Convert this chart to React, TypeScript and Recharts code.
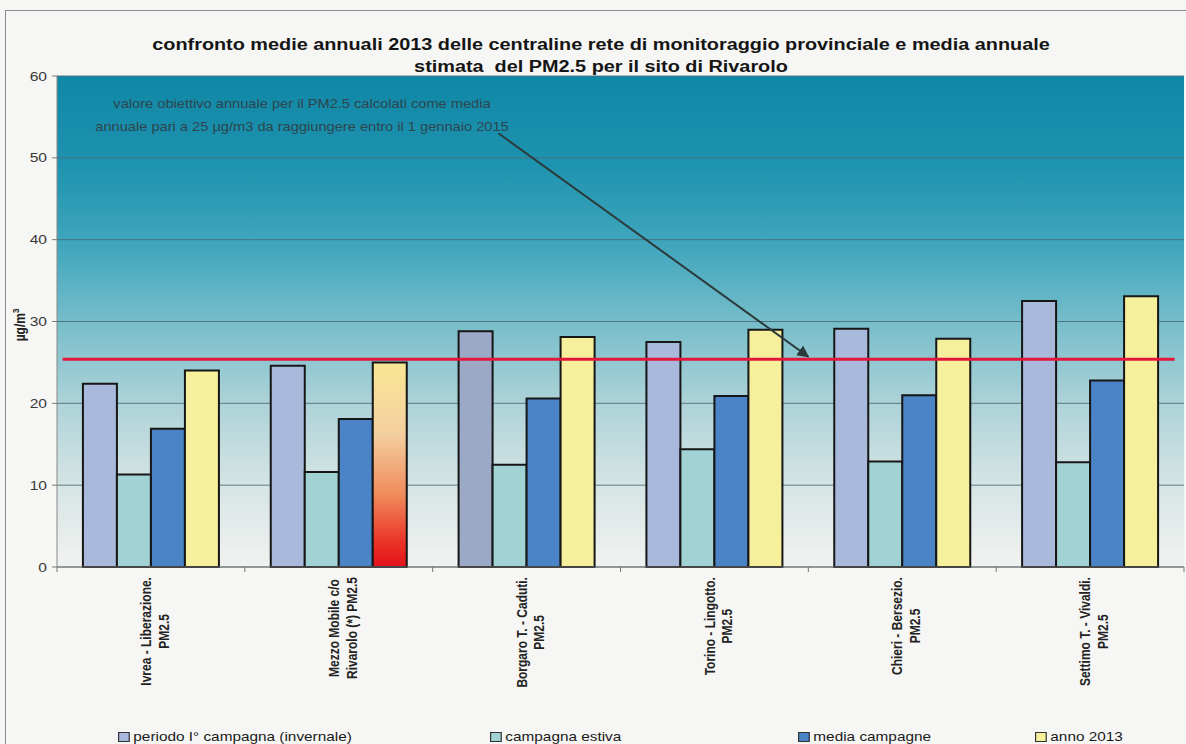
import React from 'react';
import { BarChart, Bar, XAxis, YAxis, CartesianGrid, ReferenceLine, Cell } from 'recharts';

const categories = [
  'Ivrea - Liberazione.\nPM2.5',
  'Mezzo Mobile c/o\nRivarolo (*) PM2.5',
  'Borgaro T. - Caduti.\nPM2.5',
  'Torino - Lingotto.\nPM2.5',
  'Chieri - Bersezio.\nPM2.5',
  'Settimo T. - Vivaldi.\nPM2.5',
];
const periodoInvernale = [22.4, 24.6, 28.8, 27.5, 29.1, 32.5];
const campagnaEstiva = [11.3, 11.6, 12.5, 14.4, 12.9, 12.8];
const mediaCampagne = [16.9, 18.1, 20.6, 20.9, 21.0, 22.8];
const anno2013 = [24.0, 25.0, 28.1, 29.0, 27.9, 33.1];
const yTicks = [0, 10, 20, 30, 40, 50, 60];
const objectiveValue = 25.4;

const seriesNames = ['periodo I° campagna (invernale)', 'campagna estiva', 'media campagne', 'anno 2013'];
const seriesKeys = ['inv', 'est', 'med', 'anno'];
const seriesColors = ['#a8b9dc', '#a2d3d4', '#4b84c6', '#f6f09c'];

const titleLines = [
  'confronto medie annuali 2013 delle centraline rete di monitoraggio provinciale e media annuale',
  'stimata  del PM2.5 per il sito di Rivarolo',
];
const noteLines = [
  'valore obiettivo annuale per il PM2.5  calcolati come media',
  'annuale pari a 25 µg/m3 da raggiungere entro il 1 gennaio 2015',
];

const data = categories.map((name, i) => ({
  name,
  pos: i + 0.5,
  inv: periodoInvernale[i],
  est: campagnaEstiva[i],
  med: mediaCampagne[i],
  anno: anno2013[i],
}));

const FONT = "'Liberation Sans', Arial, sans-serif";
const SX = 1.18;

let ctx: CanvasRenderingContext2D | null = null;
const measure = (s: string, font: string) => {
  if (!ctx) ctx = document.createElement('canvas').getContext('2d');
  if (!ctx) return s.length * 6.5;
  ctx.font = font;
  return ctx.measureText(s).width;
};

const CatTick = (props: any) => {
  const { x, y, payload, index } = props;
  const lines = String(payload.value).split('\n');
  const lineH = 15;
  const w = Math.max(...lines.map((l) => measure(l, `bold 12px ${FONT}`)));
  const half = ((lines.length - 1) * lineH) / 2;
  const off = payload.offset ?? 94;
  return (
    <g>
      <line x1={x - off} x2={x - off} y1={y - 8} y2={y - 3} stroke="#777" />
      {index === categories.length - 1 && (
        <line x1={x + off} x2={x + off} y1={y - 8} y2={y - 3} stroke="#777" />
      )}
      <g transform={`translate(${x + 4},${y + 2}) scale(${SX},1) rotate(-90)`}>
        {lines.map((l, i) => (
          <text
            key={i}
            x={-w / 2}
            y={-half + i * lineH}
            dy="0.35em"
            textAnchor="middle"
            fontFamily={FONT}
            fontWeight="bold"
            fontSize={12}
            fill="#222"
          >
            {l}
          </text>
        ))}
      </g>
    </g>
  );
};

const YTick = (props: any) => {
  const { x, y, payload } = props;
  return (
    <text
      transform={`translate(${x - 3},${y}) scale(1.2,1)`}
      textAnchor="end"
      dy="0.35em"
      fontFamily={FONT}
      fontSize={13}
      fill="#3a3a3a"
    >
      {payload.value}
    </text>
  );
};

const ArrowShape = (p: any) => (
  <line x1={p.x1} y1={p.y1} x2={p.x2} y2={p.y2} stroke="#2b3b3c" strokeWidth={2} markerEnd="url(#arrowHead)" />
);

export default function App() {
  return (
    <div style={{ position: 'absolute', left: 0, top: 0, width: 1186, height: 744, background: '#f6f6f4', overflow: 'hidden' }}>
      <div style={{ position: 'absolute', left: 5, top: 10, width: 1200, height: 800, border: '1px solid #8a8a8a', boxSizing: 'border-box' }} />
      <BarChart
        width={1186}
        height={744}
        data={data}
        margin={{ top: 76, right: 2, left: 0, bottom: 27 }}
        barCategoryGap="13.8%"
        barGap={0}
        style={{ position: 'absolute', left: 0, top: 0 }}
      >
        <defs>
          <linearGradient id="bgGrad" x1="0" y1="0" x2="0" y2="1">
            <stop offset="0%" stopColor="#1187a7" />
            <stop offset="18%" stopColor="#1d93af" />
            <stop offset="35%" stopColor="#42a7bd" />
            <stop offset="50%" stopColor="#76bdca" />
            <stop offset="67%" stopColor="#aed3d8" />
            <stop offset="84%" stopColor="#d7e5e5" />
            <stop offset="100%" stopColor="#f1f2f0" />
          </linearGradient>
          <linearGradient id="hotGrad" x1="0" y1="0" x2="0" y2="1">
            <stop offset="0%" stopColor="#f8e793" />
            <stop offset="35%" stopColor="#f4cfa0" />
            <stop offset="65%" stopColor="#f08a5a" />
            <stop offset="88%" stopColor="#ea3326" />
            <stop offset="100%" stopColor="#e3101c" />
          </linearGradient>
          <marker id="arrowHead" viewBox="0 0 10 10" refX="9" refY="5" markerWidth="6" markerHeight="6" orient="auto">
            <path d="M0,0 L10,5 L0,10 z" fill="#2b3b3c" />
          </marker>
        </defs>
        <CartesianGrid vertical={false} fill="url(#bgGrad)" stroke="#4a6b74" strokeOpacity={0.85} />
        <XAxis
          dataKey="name"
          interval={0}
          height={150}
          tickLine={false}
          axisLine={{ stroke: '#777' }}
          tick={<CatTick />}
        />
        <XAxis xAxisId="num" dataKey="pos" type="number" scale="linear" domain={[0, 6]} hide allowDataOverflow />
        <YAxis
          domain={[0, 60]}
          ticks={yTicks}
          width={57}
          tickSize={5}
          tickLine={{ stroke: '#777' }}
          axisLine={{ stroke: '#888' }}
          tick={<YTick />}
          interval={0}
        />
        {seriesKeys.map((k, si) => (
          <Bar key={k} dataKey={k} name={seriesNames[si]} fill={seriesColors[si]} stroke="#161616" strokeWidth={2} isAnimationActive={false}>
            {data.map((d, i) => (
              <Cell
                key={i}
                fill={
                  k === 'anno' && i === 1
                    ? 'url(#hotGrad)'
                    : k === 'inv' && i === 2
                    ? '#9ca9c6'
                    : seriesColors[si]
                }
              />
            ))}
          </Bar>
        ))}
        <ReferenceLine
          xAxisId="num"
          segment={[{ x: 0.03, y: objectiveValue }, { x: 5.95, y: objectiveValue }]}
          stroke="#e3163c"
          strokeWidth={3}
          ifOverflow="visible"
        />
        <ReferenceLine
          xAxisId="num"
          segment={[{ x: 2.35, y: 53.0 }, { x: 4.0, y: 25.7 }]}
          shape={ArrowShape}
          ifOverflow="visible"
        />
        {noteLines.map((l, i) => (
          <text
            key={i}
            transform={`translate(302,${104 + i * 23}) scale(1.22,1)`}
            dy="0.35em"
            textAnchor="middle"
            fontFamily={FONT}
            fontSize={12}
            fill="#2d454c"
          >
            {l}
          </text>
        ))}
        <text transform={`translate(20,325) scale(${SX},1) rotate(-90)`} textAnchor="middle" dy="0.35em" fontFamily={FONT} fontWeight="bold" fontSize={12} fill="#222">
          µg/m<tspan dy="-5" fontSize={8}>3</tspan>
        </text>
      </BarChart>
      {titleLines.map((l, i) => (
        <div
          key={i}
          style={{
            position: 'absolute',
            left: 0,
            width: 1202,
            top: 35 + i * 22,
            textAlign: 'center',
            fontFamily: FONT,
            fontWeight: 'bold',
            fontSize: 16,
            color: '#151515',
            whiteSpace: 'pre',
            lineHeight: '20px',
            transform: 'scaleX(1.24)',
          }}
        >
          {l}
        </div>
      ))}
      {seriesNames.map((n, i) => (
        <div
          key={n}
          style={{
            position: 'absolute',
            left: [118, 490, 798, 1035][i],
            top: 729,
            display: 'flex',
            alignItems: 'center',
            fontFamily: FONT,
            fontSize: 13,
            color: '#1a1a1a',
            whiteSpace: 'pre',
            transform: `scaleX(${SX})`,
            transformOrigin: 'left center',
          }}
        >
          <span style={{ display: 'inline-block', width: 8, height: 8, background: seriesColors[i], border: '1px solid #333', marginRight: 3 }} />
          {n}
        </div>
      ))}
    </div>
  );
}
